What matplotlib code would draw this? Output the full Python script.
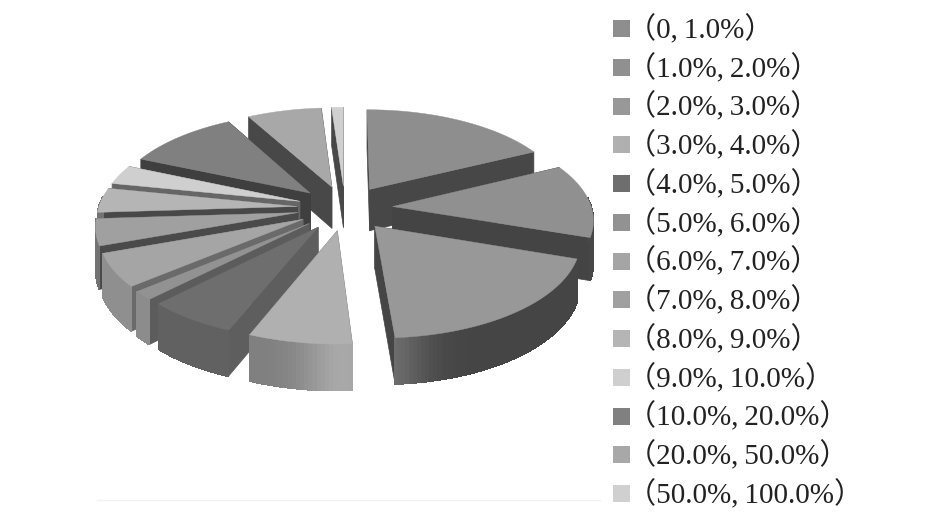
#=======================================================
# exploded 3D pie of share classes, grey print style
#=======================================================
import numpy as np
import matplotlib
matplotlib.use('Agg')
import matplotlib.pyplot as plt
from matplotlib.patches import Polygon, Rectangle

#=======================
#====== data
#=======================
labels = ['（0,\u20091.0%）', '（1.0%,\u20092.0%）', '（2.0%,\u20093.0%）', '（3.0%,\u20094.0%）',
          '（4.0%,\u20095.0%）', '（5.0%,\u20096.0%）', '（6.0%,\u20097.0%）', '（7.0%,\u20098.0%）',
          '（8.0%,\u20099.0%）', '（9.0%,\u200910.0%）', '（10.0%,\u200920.0%）',
          '（20.0%,\u200950.0%）', '（50.0%,\u2009100.0%）']
shares = [17.7, 12.5, 18.7, 7.2, 6.3, 1.5, 5.6, 4.5, 4.2, 3.3, 10.5, 6.9, 1.1]

top_grey = ['#8e8e8e', '#909090', '#989898', '#b0b0b0', '#6e6e6e', '#929292', '#a5a5a5',
            '#a0a0a0', '#b5b5b5', '#cfcfcf', '#808080', '#a8a8a8', '#d0d0d0']
wall_grey = ['#474747', '#444444', '#454545', '#707070', '#5e5e5e', '#5c5c5c', '#6a6a6a',
             '#4a4a4a', '#484848', '#666666', '#3f3f3f', '#484848', '#484848']
rim_grey = [0.28, 0.28, 0.27, 0.50, 0.38, 0.55, 0.56, 0.45, 0.45, 0.45, 0.30, 0.35, 0.35]

#=======================
#====== pie geometry (pixels)
#=======================
CX, CY = 345, 208
RX, RY = 199, 93.5
PERSP = 0.121     # back smaller than front
EXPLODE = 0.24
DEPTH = 42


def project(u, v, low=False):
    s = 1 / (1 + PERSP * v)
    px = CX + RX * u * s
    py = CY - RY * v * s
    if low:
        py = py + DEPTH / (1 + 0.08 * v)
    return px, py


fig = plt.figure(figsize=(9.45, 5.26), dpi=100)
ax = fig.add_axes([0, 0, 1, 1])
ax.set_xlim(0, 945)
ax.set_ylim(526, 0)
ax.axis('off')

# faint edge left by the scan
ax.plot([97, 600], [500, 500], color='#f1f1f1', lw=1)

edges = np.concatenate([[0], np.cumsum(shares)]) / np.sum(shares) * 360
slices = []
for i in range(len(shares)):
    mid = np.radians((edges[i] + edges[i + 1]) / 2)
    u0 = EXPLODE * np.sin(mid)
    v0 = EXPLODE * np.cos(mid)
    slices.append((v0, i, u0))

# back to front
for v0, i, u0 in sorted(slices, key=lambda t: -t[0]):
    th = np.radians(np.arange(edges[i], edges[i + 1] + 1, 1.0))
    th[-1] = np.radians(edges[i + 1])
    u = u0 + np.sin(th)
    v = v0 + np.cos(th)

    # the two cut faces
    for k in [0, -1]:
        quad = [project(u0, v0), project(u[k], v[k]), project(u[k], v[k], True), project(u0, v0, True)]
        ax.add_patch(Polygon(quad, closed=True, fc=wall_grey[i], ec=wall_grey[i], lw=0.5))

    # outer rim, only where it faces the viewer
    for j in range(len(th) - 1):
        if np.cos(th[j]) > 0.1:
            continue
        g = rim_grey[i] + 0.16 * np.exp(-((np.degrees(th[j]) - 178) / 10) ** 2)
        quad = [project(u[j], v[j]), project(u[j + 1], v[j + 1]),
                project(u[j + 1], v[j + 1], True), project(u[j], v[j], True)]
        ax.add_patch(Polygon(quad, closed=True, fc=str(g), ec=str(g), lw=0.5, antialiased=False))

    top = [project(u0, v0)] + [project(a, b) for a, b in zip(u, v)]
    ax.add_patch(Polygon(top, closed=True, fc=top_grey[i], ec=top_grey[i], lw=0.3))

#=======================
#====== legend
#=======================
for i, lab in enumerate(labels):
    y = 28 + i * 38.75
    ax.add_patch(Rectangle((613, y - 8), 17, 17, fc=top_grey[i], ec='none'))
    ax.text(627, y + 1.5, lab, fontsize=21, color='#222222', va='center', ha='left',
            family=['Liberation Serif', 'Noto Sans CJK SC'])

plt.savefig('out.png', dpi=100)
